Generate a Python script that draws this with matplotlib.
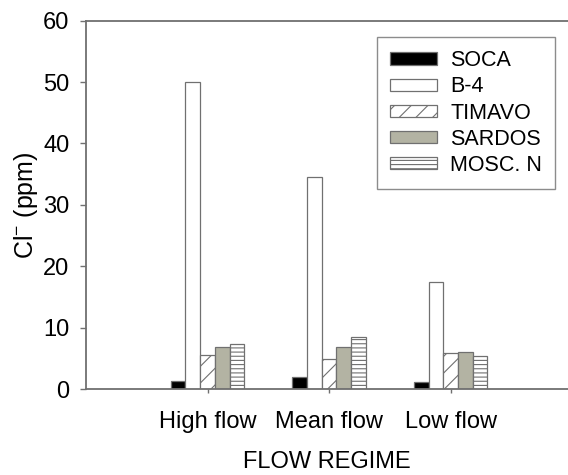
import numpy as np
import matplotlib
matplotlib.use("Agg")
import matplotlib.pyplot as plt

plt.rcParams['font.family'] = ['Liberation Sans', 'DejaVu Sans']
plt.rcParams['mathtext.default'] = 'regular'
plt.rcParams['hatch.color'] = '#707070'
plt.rcParams['hatch.linewidth'] = 0.8

# chloride values (ppm)
regimes = ['High flow', 'Mean flow', 'Low flow']
soca = [1.35, 1.95, 1.1]
b4 = [50.0, 34.6, 17.5]
timavo = [5.5, 4.9, 5.9]
sardos = [6.8, 6.8, 6.1]
mosc_n = [7.4, 8.4, 5.3]

series = [
    ('SOCA', soca, 'black', ''),
    ('B-4', b4, 'white', ''),
    ('TIMAVO', timavo, 'white', '//'),
    ('SARDOS', sardos, '#b3b3a3', ''),
    ('MOSC. N', mosc_n, 'white', '----'),
]

fig = plt.figure(figsize=(5.68, 4.75), dpi=100)
ax = fig.add_axes([0.1514, 0.181, 0.8486, 0.7754])

x = np.arange(len(regimes))
w = 0.121
for i, (name, vals, fc, hatch) in enumerate(series):
    ax.bar(x + (i - 2) * w, vals, w, color=fc, edgecolor='#707070',
           linewidth=0.9, hatch=hatch, label=name)

ax.set_xlim(-1, 2.965)
ax.set_ylim(0, 60)
ax.set_yticks(range(0, 61, 10))
ax.set_xticks(x)
ax.set_xticklabels(regimes)

for s in ['left', 'bottom', 'top']:
    ax.spines[s].set_color('#707070')
    ax.spines[s].set_linewidth(1.3)
ax.spines['right'].set_visible(False)

ax.tick_params(axis='y', direction='out', length=4, width=1, color='#707070',
               labelsize=17, pad=8)
ax.tick_params(axis='x', direction='out', length=3, width=1, color='#707070',
               labelsize=17, pad=13)

ax.set_ylabel('Cl$^{-}$ (ppm)', fontsize=18, labelpad=2)
ax.set_xlabel('FLOW REGIME', fontsize=17, labelpad=13)

leg = ax.legend(loc='upper right', bbox_to_anchor=(0.973, 0.955),
                borderaxespad=0, fontsize=15.5, fancybox=False,
                handlelength=2.2, handleheight=0.5, handletextpad=0.6,
                labelspacing=0.24, borderpad=0.6)
leg.get_frame().set_edgecolor('#707070')
leg.get_frame().set_linewidth(1.0)

plt.savefig('out.png', dpi=100)
